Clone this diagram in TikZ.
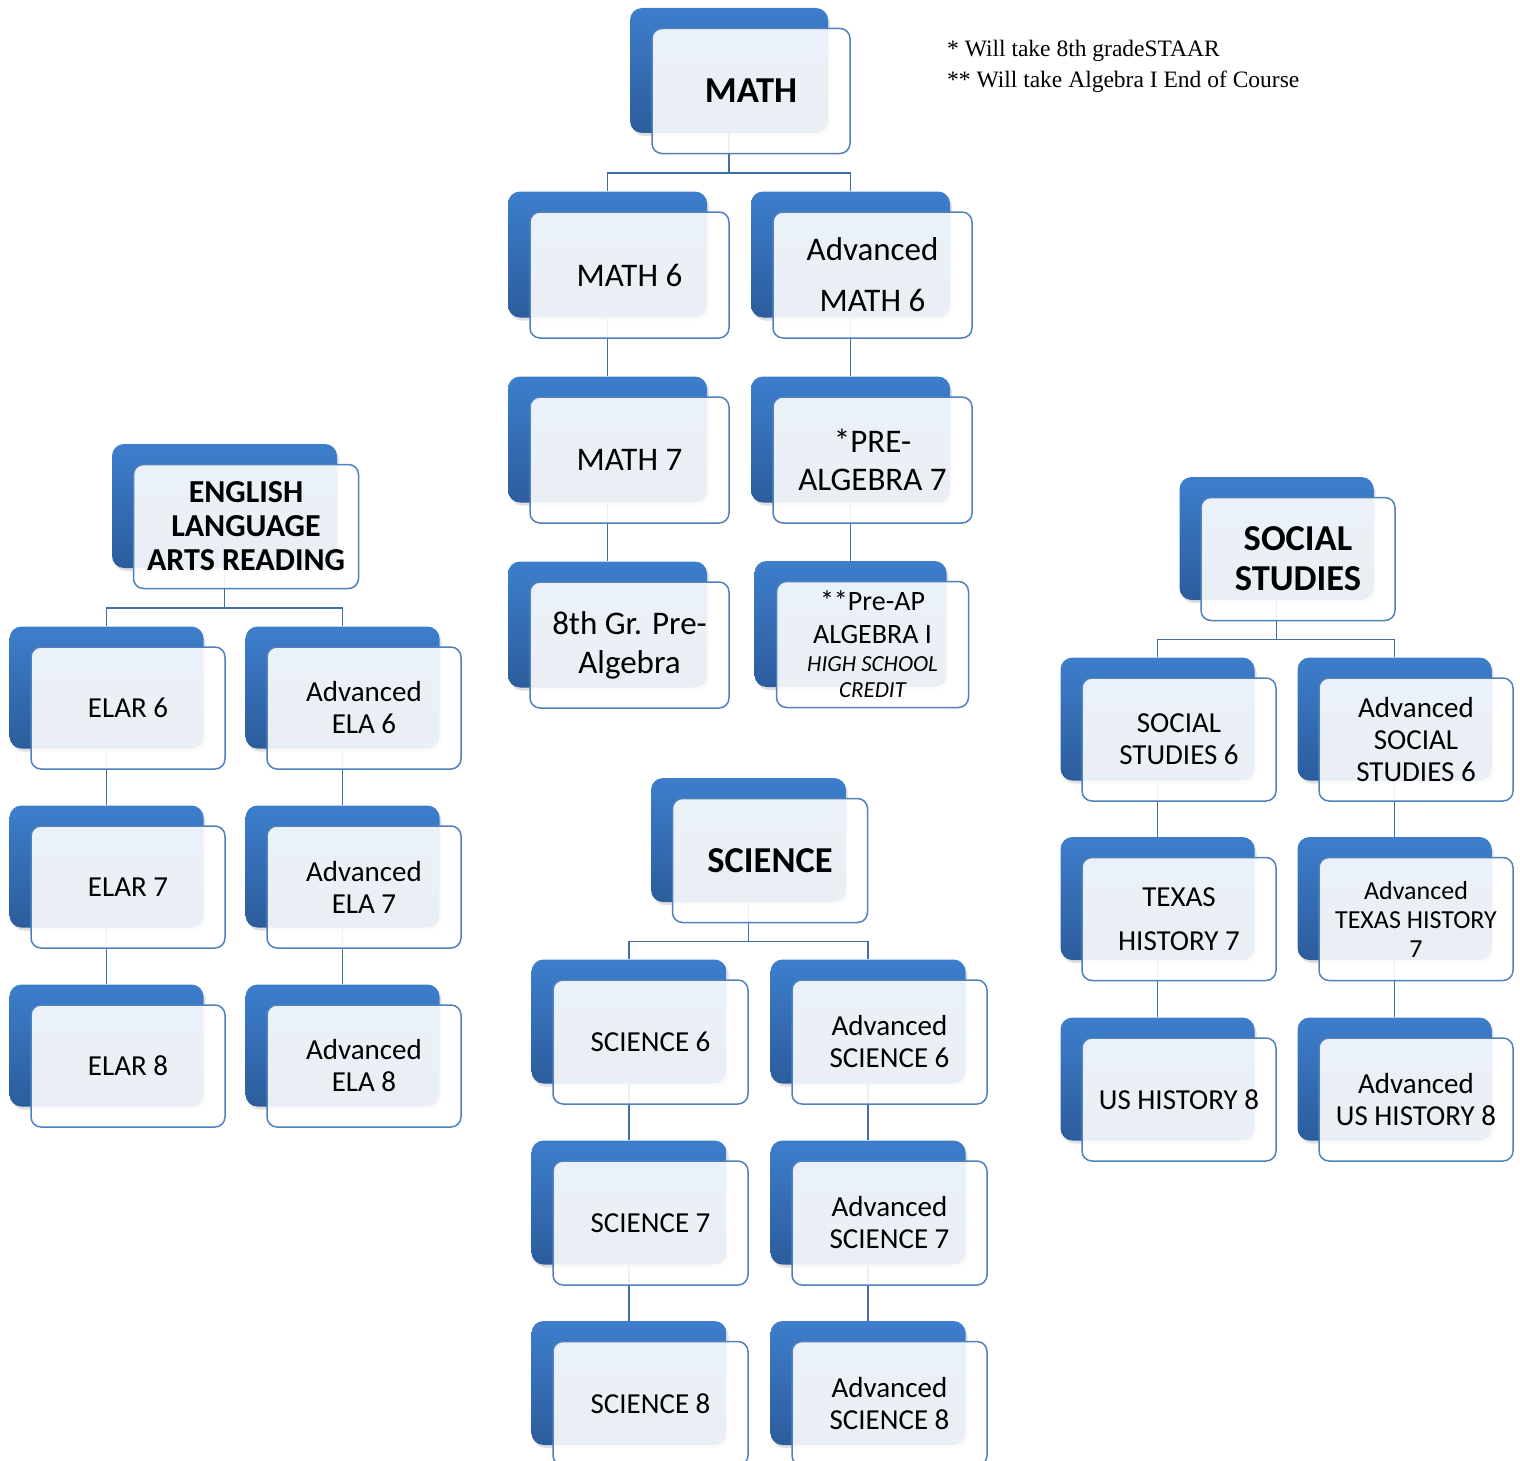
\documentclass[tikz,border=0pt]{standalone}
\usepackage{fontspec}
\setmainfont{Carlito}
\newfontfamily\notefont{Liberation Serif}
\usepackage{xcolor}
\usetikzlibrary{calc, backgrounds, shadows}

\definecolor{boxtop}{HTML}{3D7ECC}
\definecolor{boxbot}{HTML}{2C5C9C}
\definecolor{rim}{HTML}{4F81BD}
\definecolor{wire}{HTML}{3F6EA8}

\begin{document}
\begin{tikzpicture}[x=1pt, y=-1pt,
    back/.style={rectangle, rounded corners=12pt, inner sep=0pt, draw=none,
        top color=boxtop, bottom color=boxbot,
        drop shadow={shadow xshift=2pt, shadow yshift=-3pt, opacity=0.25}},
    front/.style={rectangle, rounded corners=10pt, inner sep=2pt, draw=rim, line width=1.5pt,
        fill=white, fill opacity=0.9, text opacity=1, align=center, text=black},
    link/.style={draw=wire, line width=1.5pt},
    headfont/.style={font=\bfseries\fontsize{36.5}{40}\selectfont},
    bigfont/.style={font=\fontsize{33}{38}\selectfont},
    smallfont/.style={font=\fontsize{29}{32}\selectfont},
    mathsize/.style={minimum width=199pt, minimum height=126pt},
    elasize/.style={minimum width=194pt, minimum height=122pt},
    scisize/.style={minimum width=195pt, minimum height=124pt},
    socsize/.style={minimum width=194pt, minimum height=123pt}]

    \useasboundingbox (0,0) rectangle (1520,1461);

    % notes
    \node[anchor=base west, inner sep=0pt, font=\notefont\fontsize{23.5}{31}\selectfont] (note1) at (947,57) {* Will take 8th gradeSTAAR};
    \node[anchor=base west, inner sep=0pt, font=\notefont\fontsize{23.5}{31}\selectfont] (note2) at (947,88) {** Will take Algebra I End of Course};

    % math
    \node[back, minimum width=198pt, minimum height=125pt] (mathB) at (729,70.5) {};
    \node[front, minimum width=198pt, minimum height=125pt, headfont] (math) at ($ (mathB) + (22,20.5) $) {MATH};

    \node[back, mathsize] (m6B) at (607.5,254.5) {};
    \node[front, mathsize, bigfont] (m6) at ($ (m6B) + (22,20.5) $) {MATH 6};
    \node[back, mathsize] (am6B) at (850.5,254.5) {};
    \node[front, mathsize, font=\fontsize{33}{51}\selectfont] (am6) at ($ (am6B) + (22,20.5) $) {Advanced\\MATH 6};

    \node[back, mathsize] (m7B) at (607.5,439.5) {};
    \node[front, mathsize, bigfont] (m7) at ($ (m7B) + (22,20.5) $) {MATH 7};
    \node[back, mathsize] (pa7B) at (850.5,439.5) {};
    \node[front, mathsize, bigfont] (pa7) at ($ (pa7B) + (22,20.5) $) {*PRE-\\ALGEBRA 7};

    \node[back, mathsize] (m8B) at (607.5,624.5) {};
    \node[front, mathsize, font=\fontsize{33}{39}\selectfont] (m8) at ($ (m8B) + (22,20.5) $) {8th Gr. Pre-\\Algebra};
    \node[back, minimum width=192pt, minimum height=126pt] (papB) at (850.5,624) {};
    \node[front, minimum width=192pt, minimum height=126pt, font=\fontsize{28}{30}\selectfont] (pap) at ($ (papB) + (22,20.5) $)
        {**Pre-AP\\[3pt]ALGEBRA I\\[-2pt]{\itshape\fontsize{23}{27}\selectfont HIGH SCHOOL}\\[-4pt]{\itshape\fontsize{23}{25}\selectfont CREDIT}};

    % english
    \node[back, minimum width=225pt, minimum height=124pt] (elaB) at (224.5,506) {};
    \node[front, minimum width=225pt, minimum height=124pt, font=\bfseries\fontsize{32}{34}\selectfont] (ela) at ($ (elaB) + (21.5,20.5) $) {ENGLISH\\LANGUAGE\\ARTS READING};

    \node[back, elasize] (e6B) at (106.5,687.5) {};
    \node[front, elasize, smallfont] (e6) at ($ (e6B) + (21.5,20.5) $) {ELAR 6};
    \node[back, elasize] (ae6B) at (342.5,687.5) {};
    \node[front, elasize, smallfont] (ae6) at ($ (ae6B) + (21.5,20.5) $) {Advanced\\ELA 6};

    \node[back, elasize] (e7B) at (106.5,866.5) {};
    \node[front, elasize, smallfont] (e7) at ($ (e7B) + (21.5,20.5) $) {ELAR 7};
    \node[back, elasize] (ae7B) at (342.5,866.5) {};
    \node[front, elasize, smallfont] (ae7) at ($ (ae7B) + (21.5,20.5) $) {Advanced\\ELA 7};

    \node[back, elasize] (e8B) at (106.5,1045.5) {};
    \node[front, elasize, smallfont] (e8) at ($ (e8B) + (21.5,20.5) $) {ELAR 8};
    \node[back, elasize] (ae8B) at (342.5,1045.5) {};
    \node[front, elasize, smallfont] (ae8) at ($ (ae8B) + (21.5,20.5) $) {Advanced\\ELA 8};

    % science
    \node[back, scisize] (sciB) at (748.5,840) {};
    \node[front, scisize, headfont] (sci) at ($ (sciB) + (21.5,20.5) $) {SCIENCE};

    \node[back, scisize] (s6B) at (629,1021.5) {};
    \node[front, scisize, smallfont] (s6) at ($ (s6B) + (21.5,20.5) $) {SCIENCE 6};
    \node[back, scisize] (as6B) at (868,1021.5) {};
    \node[front, scisize, smallfont] (as6) at ($ (as6B) + (21.5,20.5) $) {Advanced\\SCIENCE 6};

    \node[back, scisize] (s7B) at (629,1202.5) {};
    \node[front, scisize, smallfont] (s7) at ($ (s7B) + (21.5,20.5) $) {SCIENCE 7};
    \node[back, scisize] (as7B) at (868,1202.5) {};
    \node[front, scisize, smallfont] (as7) at ($ (as7B) + (21.5,20.5) $) {Advanced\\SCIENCE 7};

    \node[back, scisize] (s8B) at (629,1383) {};
    \node[front, scisize, smallfont] (s8) at ($ (s8B) + (21.5,20.5) $) {SCIENCE 8};
    \node[back, scisize] (as8B) at (868,1383) {};
    \node[front, scisize, smallfont] (as8) at ($ (as8B) + (21.5,20.5) $) {Advanced\\SCIENCE 8};

    % social studies
    \node[back, socsize] (socB) at (1276.5,538.5) {};
    \node[front, socsize, headfont] (soc) at ($ (socB) + (21.5,20.5) $) {SOCIAL\\STUDIES};

    \node[back, socsize] (ss6B) at (1157.5,719) {};
    \node[front, socsize, smallfont] (ss6) at ($ (ss6B) + (21.5,20.5) $) {SOCIAL\\STUDIES 6};
    \node[back, socsize] (ass6B) at (1394.5,719) {};
    \node[front, socsize, smallfont] (ass6) at ($ (ass6B) + (21.5,20.5) $) {Advanced\\SOCIAL\\STUDIES 6};

    \node[back, socsize] (th7B) at (1157.5,898.5) {};
    \node[front, socsize, font=\fontsize{29}{44}\selectfont] (th7) at ($ (th7B) + (21.5,20.5) $) {TEXAS\\HISTORY 7};
    \node[back, socsize] (ath7B) at (1394.5,898.5) {};
    \node[front, socsize, font=\fontsize{26}{29}\selectfont] (ath7) at ($ (ath7B) + (21.5,20.5) $) {Advanced\\TEXAS HISTORY\\7};

    \node[back, socsize] (us8B) at (1157.5,1079) {};
    \node[front, socsize, smallfont] (us8) at ($ (us8B) + (21.5,20.5) $) {US HISTORY 8};
    \node[back, socsize] (aus8B) at (1394.5,1079) {};
    \node[front, socsize, smallfont] (aus8) at ($ (aus8B) + (21.5,20.5) $) {Advanced\\US HISTORY 8};

    % connectors
    \begin{scope}[on background layer]
        \coordinate (mathJ) at ($ (math.south)!0.5!(m6B.north) $);
        \draw[link] (mathB.south) -- (mathB.south |- mathJ);
        \draw[link] (m6B.north) |- (mathB.south |- mathJ) -| (am6B.north);
        \draw[link] (m6B.south) -- (m7B.north);
        \draw[link] (m7B.south) -- (m8B.north);
        \draw[link] (am6B.south) -- (pa7B.north);
        \draw[link] (pa7B.south) -- (papB.north);

        \coordinate (elaJ) at ($ (ela.south)!0.5!(e6B.north) $);
        \draw[link] (elaB.south) -- (elaB.south |- elaJ);
        \draw[link] (e6B.north) |- (elaB.south |- elaJ) -| (ae6B.north);
        \draw[link] (e6B.south) -- (e7B.north);
        \draw[link] (e7B.south) -- (e8B.north);
        \draw[link] (ae6B.south) -- (ae7B.north);
        \draw[link] (ae7B.south) -- (ae8B.north);

        \coordinate (sciJ) at ($ (sci.south)!0.5!(s6B.north) $);
        \draw[link] (sciB.south) -- (sciB.south |- sciJ);
        \draw[link] (s6B.north) |- (sciB.south |- sciJ) -| (as6B.north);
        \draw[link] (s6B.south) -- (s7B.north);
        \draw[link] (s7B.south) -- (s8B.north);
        \draw[link] (as6B.south) -- (as7B.north);
        \draw[link] (as7B.south) -- (as8B.north);

        \coordinate (socJ) at ($ (soc.south)!0.5!(ss6B.north) $);
        \draw[link] (socB.south) -- (socB.south |- socJ);
        \draw[link] (ss6B.north) |- (socB.south |- socJ) -| (ass6B.north);
        \draw[link] (ss6B.south) -- (th7B.north);
        \draw[link] (th7B.south) -- (us8B.north);
        \draw[link] (ass6B.south) -- (ath7B.north);
        \draw[link] (ath7B.south) -- (aus8B.north);
    \end{scope}

\end{tikzpicture}
\end{document}
